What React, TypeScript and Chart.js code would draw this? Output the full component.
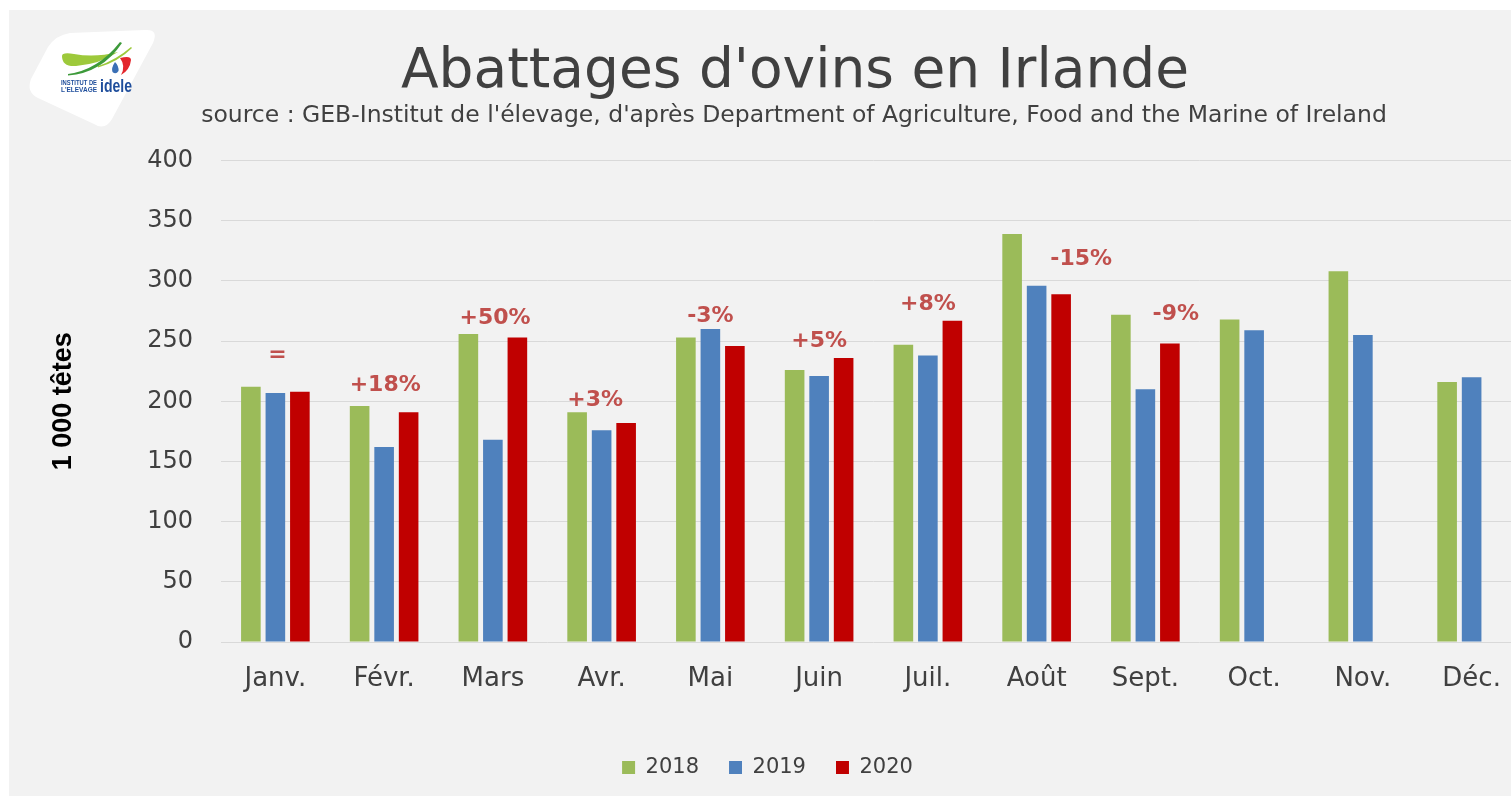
import React, { useEffect, useRef } from "react";
import { Chart, registerables } from "chart.js";

Chart.register(...registerables);

// ---- Data ----
const months = ["Janv.", "Févr.", "Mars", "Avr.", "Mai", "Juin", "Juil.", "Août", "Sept.", "Oct.", "Nov.", "Déc."];
const values2018 = [212, 196, 256, 191, 253, 226, 247, 339, 272, 268, 308, 216];
const values2019 = [207, 162, 168, 176, 260, 221, 238, 296, 210, 259, 255, 220];
const values2020: (number | null)[] = [208, 191, 253, 182, 246, 236, 267, 289, 248, null, null, null];
const seriesNames = ["2018", "2019", "2020"];
const yMin = 0;
const yMax = 400;
const yStep = 50;
// change 2020 vs 2019 labels, placed at a y value (data units)
const changeLabels = ["=", "+18%", "+50%", "+3%", "-3%", "+5%", "+8%", "-15%", "-9%", "", "", ""];
const changeLabelY: (number | null)[] = [238, 213, 269, 201, 271, 250, 281, 318, 272, null, null, null];
const changeLabelShift = [0.02, 0.01, 0.02, -0.06, 0, 0, 0, 0.41, 0.28, 0, 0, 0];

const title = "Abattages d'ovins en Irlande";
const subtitle = "source : GEB-Institut de l'élevage, d'après Department of Agriculture, Food and the Marine of Ireland";
const yTitle = "1 000 têtes";

const colors = ["#9bbb59", "#4f81bd", "#c00000"];
const FONT = "'DejaVu Sans', sans-serif";
const TEXT = "#404040";

const changePlugin = {
  id: "changeLabels",
  afterDatasetsDraw(chart: any) {
    const { ctx } = chart;
    const x = chart.scales.x;
    const y = chart.scales.y;
    const cat = x.getPixelForValue(1) - x.getPixelForValue(0);
    ctx.save();
    ctx.font = "bold 22px 'DejaVu Sans'";
    ctx.fillStyle = "#c0504d";
    ctx.textAlign = "center";
    ctx.textBaseline = "middle";
    changeLabels.forEach((t, i) => {
      const v = changeLabelY[i];
      if (!t || v == null) return;
      ctx.fillText(t, x.getPixelForValue(i) + changeLabelShift[i] * cat, y.getPixelForValue(v));
    });
    ctx.restore();
  },
};

function Logo() {
  return (
    <svg
      style={{ position: "absolute", left: -9, top: -10 }}
      width={180}
      height={140}
      viewBox="0 0 180 140"
    >
      <path
        d="M 70 33 L 145 30 Q 159 29 153 43 L 112 119 Q 105 131 94 124 L 38 98 Q 26 92 31 79 L 48 47 Q 56 35 70 33 Z"
        fill="#ffffff"
      />
      <path d="M 62 56 Q 62 52 74 54 Q 95 58 118 52 Q 100 64 76 66 Q 62 67 62 56 Z" fill="#9dc93b" />
      <path d="M 68 74 Q 98 70 120 42 L 122 43 Q 102 73 68 75.5 Z" fill="#3d9a3a" />
      <path d="M 98 66 Q 116 60 131 47 L 132 48 Q 118 62 98 67.5 Z" fill="#9dc93b" />
      <path d="M 120 58 Q 131 55 131 60 Q 130 70 121 75 Q 126 66 120 58 Z" fill="#e3262c" />
      <path d="M 115 62 Q 111 68 112.5 72 Q 116 75 118.5 71 Q 119 66 115 62 Z" fill="#3a6fb5" />
      <text x={61} y={85} fontFamily="'Liberation Sans', Arial" fontSize={6.8} fontWeight="bold" fill="#1f4e9c" textLength={36} lengthAdjust="spacingAndGlyphs">
        INSTITUT DE
      </text>
      <text x={61} y={92} fontFamily="'Liberation Sans', Arial" fontSize={6.8} fontWeight="bold" fill="#1f4e9c" textLength={36} lengthAdjust="spacingAndGlyphs">
        L'ELEVAGE
      </text>
      <text x={100} y={92} fontFamily="'Liberation Sans', Arial" fontSize={18} fontWeight="bold" fill="#1f4e9c" textLength={32} lengthAdjust="spacingAndGlyphs">
        idele
      </text>
    </svg>
  );
}

export default function App() {
  const canvasRef = useRef<HTMLCanvasElement | null>(null);

  useEffect(() => {
    if (!canvasRef.current) return;
    const ticks: number[] = [];
    for (let v = yMin; v <= yMax; v += yStep) ticks.push(v);
    const chart = new Chart(canvasRef.current, {
      type: "bar",
      data: {
        labels: months,
        datasets: [values2018, values2019, values2020].map((d, i) => ({
          label: seriesNames[i],
          data: d,
          backgroundColor: colors[i],
          borderWidth: 0,
          categoryPercentage: 0.676,
          barPercentage: 0.8,
        })),
      },
      options: {
        responsive: false,
        animation: false,
        devicePixelRatio: 1,
        layout: { padding: { top: 150.6, bottom: 8, left: 0, right: 0 } },
        plugins: {
          title: { display: false },
          tooltip: { enabled: false },
          legend: {
            display: true,
            position: "bottom",
            labels: {
              boxWidth: 13,
              boxHeight: 13,
              padding: 30,
              color: TEXT,
              font: { family: FONT, size: 21 },
            },
          },
        },
        scales: {
          x: {
            grid: { display: false, drawTicks: false },
            border: { display: false },
            ticks: { color: TEXT, font: { family: FONT, size: 26 }, padding: 22, maxRotation: 0, autoSkip: false },
            afterFit: (s: any) => {
              s.height = 85;
            },
          },
          y: {
            min: yMin,
            max: yMax,
            grid: { color: "#d9d9d9", lineWidth: 1, drawTicks: false },
            border: { display: false },
            afterBuildTicks: (s: any) => {
              s.ticks = ticks.map((v) => ({ value: v }));
            },
            ticks: { color: TEXT, font: { family: FONT, size: 24 }, padding: 28 },
            title: {
              display: true,
              text: yTitle,
              color: "#000000",
              font: { family: "'Liberation Sans', Arial, sans-serif", size: 27, weight: "bold" },
              padding: { top: 38, bottom: 0 },
            },
            afterFit: (s: any) => {
              s.width = 212;
            },
          },
        },
      },
      plugins: [changePlugin],
    } as any);
    return () => chart.destroy();
  }, []);

  return (
    <div
      style={{
        position: "fixed",
        left: 9,
        top: 10,
        width: 1502,
        height: 786,
        background: "#f2f2f2",
        overflow: "hidden",
      }}
    >
      <canvas
        ref={canvasRef}
        width={1517}
        height={786}
        style={{ position: "absolute", left: 0, top: 0, width: 1517, height: 786 }}
      />
      <Logo />
      <div
        style={{
          position: "absolute",
          left: 786,
          top: 30.5,
          transform: "translateX(-50%)",
          whiteSpace: "nowrap",
          fontFamily: FONT,
          fontSize: 55,
          lineHeight: "55px",
          color: TEXT,
        }}
      >
        {title}
      </div>
      <div
        style={{
          position: "absolute",
          left: 785,
          top: 93.1,
          transform: "translateX(-50%)",
          whiteSpace: "nowrap",
          fontFamily: FONT,
          fontSize: 23.5,
          lineHeight: "23.5px",
          color: TEXT,
        }}
      >
        {subtitle}
      </div>
    </div>
  );
}
